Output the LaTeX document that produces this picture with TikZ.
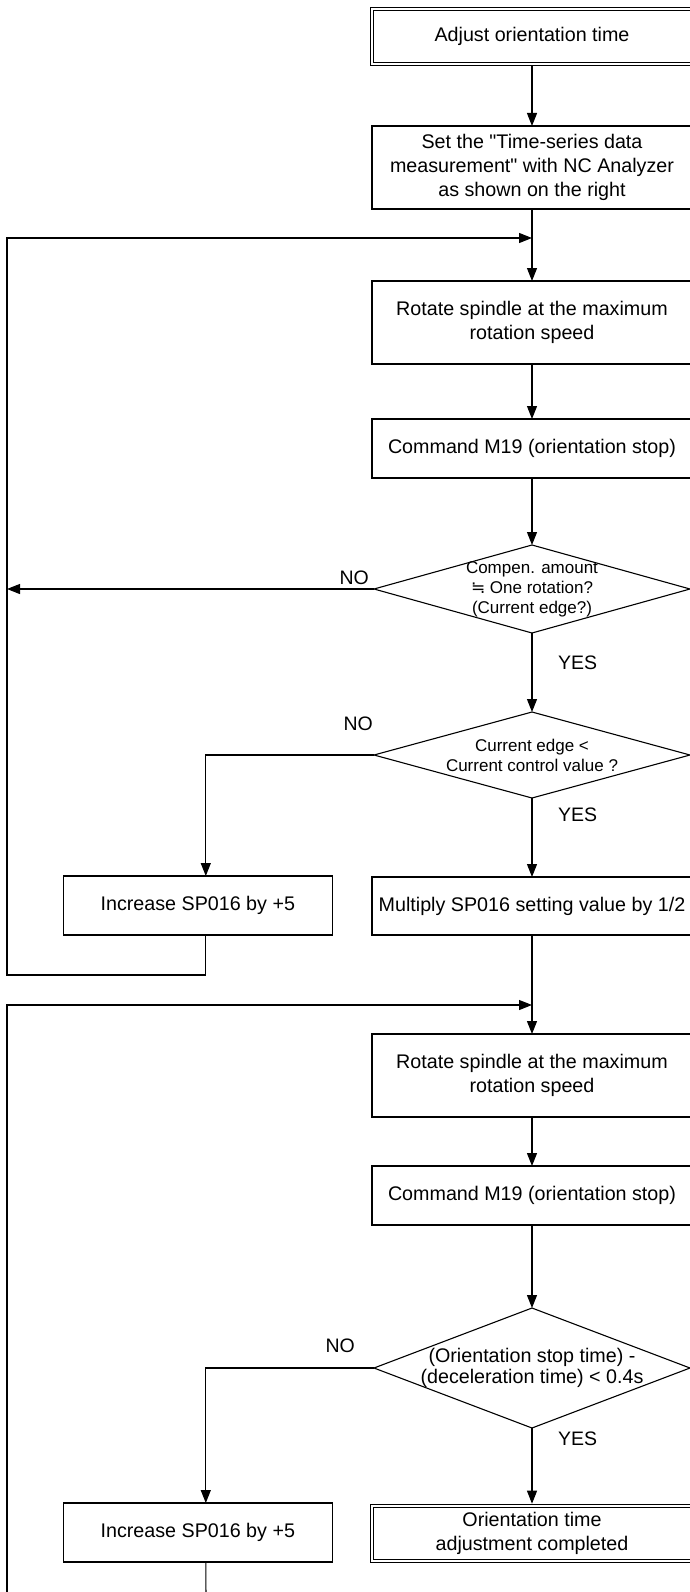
\documentclass[tikz,border=0pt]{standalone}
\usepackage{fontspec}
\setmainfont{Liberation Sans}[Ligatures=TeXOff]
\newfontfamily\approxfont{DejaVu Sans}
\usetikzlibrary{arrows.meta,shapes.geometric}
\tikzset{
  stepbox/.style={draw,line width=1.1pt,minimum width=320pt,inner sep=0pt,outer sep=0pt,align=center,font=\fontsize{19.7}{24}\selectfont},
  endbox/.style={stepbox,line width=1pt,double,double distance=1.6pt,outer sep=2.3pt},
  incbox/.style={stepbox,minimum width=269pt,minimum height=59pt},
  decision/.style={draw,diamond,line width=1.1pt,inner sep=0pt,outer sep=0pt,minimum width=316pt},
  asktext/.style={align=center,inner sep=0pt,font=\fontsize{17}{20}\selectfont},
  answer/.style={inner sep=0pt,font=\fontsize{19.5}{20}\selectfont},
  flow/.style={line width=1.1pt,-{Triangle[width=10pt,length=13pt]}},
  wire/.style={line width=1.1pt}
}

\begin{document}
\begin{tikzpicture}[x=1pt,y=-1pt,line join=miter]
  \clip (0,0) rectangle (690,1592);
  \coordinate (join1) at (532,238);
  \coordinate (back1) at (7,975);
  \coordinate (join2) at (532,1005);
  \coordinate (tail1) at (206,1600);
  \coordinate (tail2) at (7,1600);

  \node[endbox,minimum height=55pt] (start) at (532,36.5) {Adjust orientation time};
  \node[stepbox,minimum height=83pt] (set) at (532,167.5) {Set the "Time-series data\\measurement" with NC Analyzer\\as shown on the right};
  \node[stepbox,minimum height=83pt] (rot1) at (532,322.5) {Rotate spindle at the maximum\\rotation speed};
  \node[stepbox,minimum height=59pt] (cmd1) at (532,448.5) {Command M19 (orientation stop)};
  \node[decision,minimum height=88pt] (ask1) at (532,589) {};
  \node[asktext] (ask1t) at (ask1) {Compen. amount\\{\approxfont ≒} One rotation?\\(Current edge?)};
  \node[decision,minimum height=86pt] (ask2) at (532,755) {};
  \node[asktext] (ask2t) at (ask2) {Current edge <\\Current control value ?};
  \node[incbox] (inc1) at (197.8,905.5) {Increase SP016 by +5};
  \node[stepbox,minimum height=58pt] (mul) at (532,906) {Multiply SP016 setting value by 1/2};

  \node[stepbox,minimum height=83pt] (rot2) at (532,1075.5) {Rotate spindle at the maximum\\rotation speed};
  \node[stepbox,minimum height=59pt] (cmd2) at (532,1195.5) {Command M19 (orientation stop)};
  \node[decision,minimum height=120pt] (ask3) at (532,1368) {};
  \node[asktext,font=\fontsize{19.7}{20.5}\selectfont] (ask3t) at (ask3) {(Orientation stop time) -\\(deceleration time) < 0.4s};
  \node[incbox] (inc2) at (197.8,1532.5) {Increase SP016 by +5};
  \node[endbox,minimum height=55pt] (done) at (532,1533.5) {Orientation time\\adjustment completed};

  \node[answer,anchor=south east] (no1) at ([xshift=-5pt,yshift=4pt]ask1.west) {NO};
  \node[answer,anchor=south east] (no2) at ([xshift=-1pt,yshift=24pt]ask2.west) {NO};
  \node[answer,anchor=south east] (no3) at ([xshift=-19pt,yshift=15pt]ask3.west) {NO};
  \node[answer,anchor=north west] (yes1) at ([xshift=26pt,yshift=-23pt]ask1.south) {YES};
  \node[answer,anchor=north west] (yes2) at ([xshift=26pt,yshift=-10pt]ask2.south) {YES};
  \node[answer,anchor=north west] (yes3) at ([xshift=26pt,yshift=-4pt]ask3.south) {YES};

  \draw[flow] (start) -- (set);
  \draw[flow] (set) -- (rot1);
  \draw[flow] (rot1) -- (cmd1);
  \draw[flow] (cmd1) -- (ask1);
  \draw[flow] (ask1) -- (ask2);
  \draw[flow] (ask1.west) -- (ask1.west -| back1);
  \draw[flow] (ask2.west) -| ([xshift=8pt]inc1.north);
  \draw[flow] (ask2) -- (mul);
  \draw[flow] ([xshift=8pt]inc1.south) |- (back1) |- (join1);
  \draw[flow] (mul) -- (rot2);
  \draw[flow] (rot2) -- (cmd2);
  \draw[flow] (cmd2) -- (ask3);
  \draw[flow] (ask3.west) -| ([xshift=8pt]inc2.north);
  \draw[flow] (ask3) -- (done);
  \draw[wire] ([xshift=8pt]inc2.south) -- (tail1);
  \draw[flow] (tail2) |- (join2);
\end{tikzpicture}
\end{document}
